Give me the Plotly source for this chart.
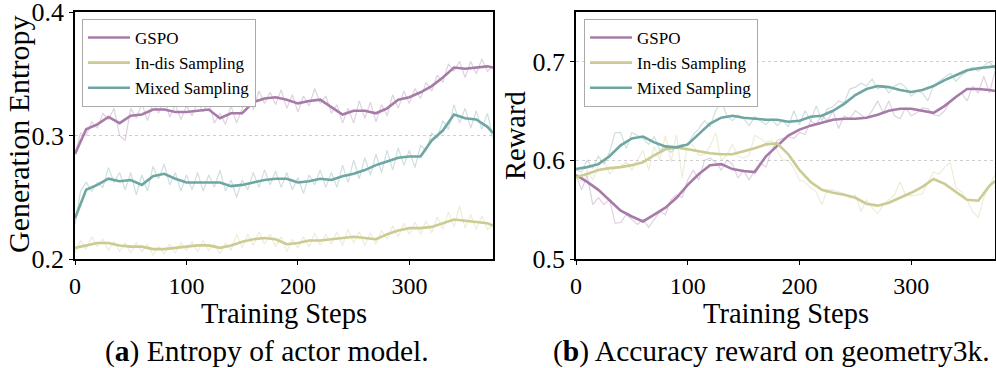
import plotly.graph_objects as go
from plotly.subplots import make_subplots

# ---- data ----
RAW_STEPS = list(range(0, 376, 5))
SMOOTH_STEPS = list(range(0, 371, 10)) + [375]

SERIES = ["GSPO", "In-dis Sampling", "Mixed Sampling"]

# (a) generation entropy
GSPO_ENT_RAW = [
    0.285, 0.302, 0.300, 0.311, 0.306, 0.318, 0.313, 0.322, 0.300, 0.296,
    0.322, 0.314, 0.326, 0.312, 0.327, 0.318, 0.330, 0.315, 0.325, 0.313,
    0.324, 0.316, 0.327, 0.319, 0.328, 0.310, 0.318, 0.309, 0.324, 0.310,
    0.322, 0.335, 0.321, 0.336, 0.326, 0.335, 0.325, 0.337, 0.322, 0.333,
    0.319, 0.332, 0.324, 0.338, 0.326, 0.332, 0.318, 0.325, 0.310, 0.322,
    0.310, 0.328, 0.314, 0.327, 0.311, 0.325, 0.316, 0.333, 0.322, 0.336,
    0.326, 0.338, 0.330, 0.343, 0.336, 0.349, 0.343, 0.358, 0.352, 0.360,
    0.347, 0.360, 0.350, 0.362, 0.352, 0.356,
]
INDIS_ENT_RAW = [
    0.205, 0.215, 0.208, 0.218, 0.210, 0.216, 0.207, 0.214, 0.206, 0.213,
    0.205, 0.213, 0.206, 0.212, 0.203, 0.210, 0.204, 0.212, 0.205, 0.213,
    0.207, 0.214, 0.206, 0.215, 0.207, 0.212, 0.204, 0.213, 0.207, 0.220,
    0.209, 0.220, 0.211, 0.222, 0.212, 0.220, 0.210, 0.218, 0.206, 0.216,
    0.209, 0.218, 0.210, 0.221, 0.211, 0.220, 0.212, 0.222, 0.211, 0.224,
    0.213, 0.222, 0.211, 0.221, 0.212, 0.223, 0.216, 0.227, 0.218, 0.229,
    0.220, 0.230, 0.220, 0.231, 0.221, 0.234, 0.224, 0.238, 0.226, 0.243,
    0.225, 0.236, 0.224, 0.235, 0.224, 0.227,
]
MIXED_ENT_RAW = [
    0.228, 0.255, 0.262, 0.255, 0.262, 0.258, 0.274, 0.262, 0.270, 0.256,
    0.270, 0.252, 0.268, 0.255, 0.275, 0.265, 0.277, 0.260, 0.270, 0.255,
    0.268, 0.256, 0.270, 0.255, 0.268, 0.258, 0.272, 0.255, 0.264, 0.250,
    0.264, 0.256, 0.270, 0.258, 0.272, 0.260, 0.271, 0.258, 0.270, 0.256,
    0.266, 0.253, 0.268, 0.260, 0.272, 0.258, 0.270, 0.258, 0.276, 0.262,
    0.280, 0.265, 0.282, 0.268, 0.285, 0.270, 0.288, 0.272, 0.290, 0.276,
    0.288, 0.274, 0.292, 0.288, 0.302, 0.298, 0.312, 0.305, 0.325, 0.310,
    0.322, 0.306, 0.320, 0.305, 0.318, 0.298,
]
GSPO_ENT_SMOOTH = [
    0.285, 0.305, 0.309, 0.315, 0.310, 0.316, 0.317, 0.321, 0.321, 0.319,
    0.319, 0.320, 0.321, 0.314, 0.318, 0.318, 0.327, 0.330, 0.331, 0.329,
    0.326, 0.328, 0.329, 0.323, 0.317, 0.320, 0.320, 0.318, 0.322, 0.329,
    0.331, 0.335, 0.340, 0.347, 0.355, 0.354, 0.355, 0.356, 0.355,
]
INDIS_ENT_SMOOTH = [
    0.209, 0.211, 0.213, 0.213, 0.211, 0.210, 0.210, 0.208, 0.208, 0.209,
    0.210, 0.211, 0.211, 0.209, 0.211, 0.214, 0.216, 0.217, 0.216, 0.212,
    0.213, 0.215, 0.215, 0.216, 0.217, 0.218, 0.217, 0.216, 0.220, 0.223,
    0.225, 0.225, 0.226, 0.229, 0.232, 0.231, 0.230, 0.229, 0.227,
]
MIXED_ENT_SMOOTH = [
    0.233, 0.256, 0.260, 0.265, 0.263, 0.264, 0.260, 0.267, 0.269, 0.265,
    0.262, 0.262, 0.262, 0.262, 0.259, 0.260, 0.262, 0.264, 0.265, 0.265,
    0.262, 0.263, 0.265, 0.264, 0.267, 0.269, 0.272, 0.276, 0.279, 0.282,
    0.283, 0.283, 0.296, 0.304, 0.317, 0.314, 0.313, 0.307, 0.302,
]

# (b) accuracy reward
GSPO_REW_RAW = [
    0.585, 0.570, 0.585, 0.555, 0.562, 0.555, 0.560, 0.536, 0.537, 0.545,
    0.540, 0.535, 0.540, 0.532, 0.540, 0.548, 0.545, 0.560, 0.565, 0.562,
    0.580, 0.590, 0.580, 0.600, 0.602, 0.598, 0.590, 0.600, 0.596, 0.582,
    0.590, 0.580, 0.590, 0.597, 0.593, 0.610, 0.620, 0.622, 0.624, 0.622,
    0.628, 0.626, 0.640, 0.636, 0.646, 0.640, 0.650, 0.632, 0.645, 0.642,
    0.650, 0.646, 0.642, 0.650, 0.660, 0.648, 0.660, 0.645, 0.642, 0.653,
    0.645, 0.648, 0.653, 0.652, 0.646, 0.645, 0.650, 0.660, 0.665, 0.668,
    0.660, 0.675, 0.668, 0.685, 0.668, 0.690,
]
INDIS_REW_RAW = [
    0.582, 0.578, 0.590, 0.580, 0.595, 0.600, 0.586, 0.592, 0.594, 0.598,
    0.590, 0.600, 0.610, 0.590, 0.614, 0.600, 0.625, 0.598, 0.626, 0.582,
    0.618, 0.615, 0.605, 0.606, 0.614, 0.628, 0.600, 0.605, 0.616, 0.604,
    0.602, 0.605, 0.625, 0.622, 0.618, 0.620, 0.610, 0.600, 0.600, 0.592,
    0.580, 0.578, 0.572, 0.568, 0.555, 0.570, 0.570, 0.568, 0.566, 0.562,
    0.565, 0.548, 0.560, 0.552, 0.546, 0.555, 0.560, 0.565, 0.578, 0.565,
    0.564, 0.565, 0.566, 0.578, 0.588, 0.586, 0.593, 0.598, 0.572, 0.568,
    0.560, 0.548, 0.542, 0.562, 0.575, 0.585,
]
MIXED_REW_RAW = [
    0.590, 0.588, 0.600, 0.592, 0.604, 0.596, 0.608, 0.628, 0.628, 0.612,
    0.628, 0.625, 0.622, 0.616, 0.624, 0.610, 0.614, 0.608, 0.614, 0.616,
    0.615, 0.626, 0.632, 0.640, 0.634, 0.650, 0.660, 0.645, 0.640, 0.646,
    0.642, 0.635, 0.644, 0.640, 0.636, 0.642, 0.635, 0.640, 0.634, 0.650,
    0.636, 0.650, 0.640, 0.655, 0.640, 0.652, 0.654, 0.660, 0.658, 0.672,
    0.674, 0.678, 0.675, 0.682, 0.672, 0.676, 0.668, 0.675, 0.678, 0.674,
    0.665, 0.670, 0.668, 0.660, 0.676, 0.680, 0.684, 0.688, 0.680, 0.686,
    0.690, 0.694, 0.690, 0.695, 0.700, 0.692,
]
GSPO_REW_SMOOTH = [
    0.585, 0.578, 0.570, 0.559, 0.549, 0.543, 0.538, 0.545, 0.552, 0.562,
    0.575, 0.586, 0.595, 0.596, 0.591, 0.589, 0.588, 0.604, 0.615, 0.625,
    0.631, 0.635, 0.638, 0.641, 0.642, 0.642, 0.643, 0.646, 0.650, 0.652,
    0.652, 0.650, 0.648, 0.655, 0.664, 0.672, 0.672, 0.671, 0.670,
]
INDIS_REW_SMOOTH = [
    0.583, 0.586, 0.590, 0.592, 0.593, 0.595, 0.598, 0.605, 0.611, 0.613,
    0.611, 0.609, 0.607, 0.606, 0.606, 0.609, 0.612, 0.616, 0.617, 0.606,
    0.590, 0.578, 0.570, 0.567, 0.565, 0.562, 0.556, 0.554, 0.557, 0.562,
    0.567, 0.573, 0.581, 0.576, 0.568, 0.560, 0.559, 0.574, 0.579,
]
MIXED_REW_SMOOTH = [
    0.591, 0.593, 0.596, 0.604, 0.615, 0.622, 0.624, 0.618, 0.614, 0.613,
    0.616, 0.626, 0.637, 0.643, 0.645, 0.643, 0.642, 0.641, 0.641, 0.639,
    0.640, 0.644, 0.645, 0.650, 0.657, 0.666, 0.672, 0.675, 0.674, 0.671,
    0.669, 0.671, 0.675, 0.681, 0.686, 0.691, 0.693, 0.694, 0.695,
]

COLORS = ["#a77ba8", "#cbcb93", "#6fa6a3"]
RAW_COLORS = ["rgba(167,123,168,0.35)", "rgba(203,203,147,0.35)", "rgba(111,166,163,0.35)"]
FONT = "Liberation Serif"
W, H = 996, 368


def px(x):
    return x / W


def py(y):
    return 1 - y / H


fig = make_subplots(rows=1, cols=2)

panels = [
    (1, [GSPO_ENT_RAW, INDIS_ENT_RAW, MIXED_ENT_RAW], [GSPO_ENT_SMOOTH, INDIS_ENT_SMOOTH, MIXED_ENT_SMOOTH], "legend"),
    (2, [GSPO_REW_RAW, INDIS_REW_RAW, MIXED_REW_RAW], [GSPO_REW_SMOOTH, INDIS_REW_SMOOTH, MIXED_REW_SMOOTH], "legend2"),
]
for col, raws, smooths, leg in panels:
    for i, raw in enumerate(raws):
        fig.add_trace(go.Scatter(x=RAW_STEPS, y=raw, mode="lines", showlegend=False,
                                 line=dict(color=RAW_COLORS[i], width=1.2), hoverinfo="skip"),
                      row=1, col=col)
    for i, sm in enumerate(smooths):
        fig.add_trace(go.Scatter(x=SMOOTH_STEPS, y=sm, mode="lines", name=SERIES[i], legend=leg,
                                 line=dict(color=COLORS[i], width=2.6)),
                      row=1, col=col)

axis_common = dict(showline=True, mirror=True, linecolor="black", linewidth=1.5,
                   ticks="outside", ticklen=4, tickwidth=1.2, tickcolor="black",
                   tickfont=dict(family=FONT, size=24, color="black"), zeroline=False,
                   automargin=False, ticklabeloverflow="allow")

fig.update_xaxes(range=[0, 375], tickvals=[0, 100, 200, 300], showgrid=False, **axis_common)
fig.update_yaxes(showgrid=True, gridcolor="#cfcfcf", griddash="dot", gridwidth=1, **axis_common)
fig.update_xaxes(domain=[px(75), px(493)], row=1, col=1)
fig.update_xaxes(domain=[px(576), px(995)], row=1, col=2)
fig.update_yaxes(domain=[py(259), py(12)])
fig.update_yaxes(range=[0.2, 0.4], tickvals=[0.2, 0.3, 0.4], ticktext=["0.2", "0.3", "0.4"],
                 tickfont=dict(size=26), row=1, col=1)
fig.update_yaxes(range=[0.5, 0.75], tickvals=[0.5, 0.6, 0.7], ticktext=["0.5", "0.6", "0.7"],
                 tickfont=dict(size=26), row=1, col=2)

legend_style = dict(bgcolor="white", bordercolor="#aaaaaa", borderwidth=1,
                    font=dict(family=FONT, size=17, color="black"),
                    xanchor="left", yanchor="top", tracegroupgap=0, itemwidth=42)
fig.update_layout(
    width=W, height=H, margin=dict(l=0, r=0, t=0, b=0),
    plot_bgcolor="white", paper_bgcolor="white",
    legend=dict(x=px(82), y=py(19), **legend_style),
    legend2=dict(x=px(584), y=py(19), **legend_style),
)

title_font = dict(family=FONT, size=28.5, color="black")
caption_font = dict(family=FONT, size=29.5, color="black")
annotations = [
    dict(text="Generation Entropy", x=px(18), y=py(135), textangle=-90, font=dict(family=FONT, size=30, color="black")),
    dict(text="Reward", x=px(515), y=py(136), textangle=-90, font=title_font),
    dict(text="Training Steps", x=px(284), y=py(313), font=title_font),
    dict(text="Training Steps", x=px(786), y=py(313), font=title_font),
    dict(text="(<b>a</b>) Entropy of actor model.", x=px(267), y=py(351), font=caption_font),
    dict(text="(<b>b</b>) Accuracy reward on geometry3k.", x=px(771), y=py(351), font=caption_font),
]
for a in annotations:
    fig.add_annotation(xref="paper", yref="paper", showarrow=False, xanchor="center", yanchor="middle", **a)

fig.write_html("out.html", config={"displayModeBar": False},
               post_script="document.body.style.margin='0';")
